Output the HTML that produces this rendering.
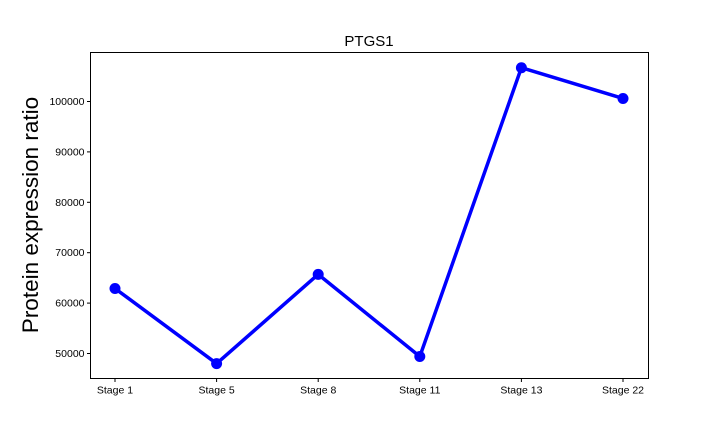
<!DOCTYPE html>
<html><head><meta charset="utf-8"><style>
body{margin:0;background:#fff;font-family:"Liberation Sans",sans-serif;}
svg text{font-family:"Liberation Sans",sans-serif;}
</style></head><body>
<svg id="chart" width="720" height="432" xmlns="http://www.w3.org/2000/svg">
<rect x="0" y="0" width="720" height="432" fill="#fff"/>
<text x="369" y="46" font-size="15" text-anchor="middle">PTGS1</text>
<text transform="translate(38,215) rotate(-90)" font-size="22.5" text-anchor="middle">Protein expression ratio</text>
<g id="axes"></g>
<g id="series"></g>
<rect x="90.5" y="52.5" width="558" height="326" fill="none" stroke="#000" stroke-width="1"/>
</svg>
<script>
const categories=["Stage 1","Stage 5","Stage 8","Stage 11","Stage 13","Stage 22"];
const values=[62900,48000,65700,49400,106700,100600];
const yTicks=[50000,60000,70000,80000,90000,100000];
const yMin=45040,yMax=109720;
const L=90.5,R=648.5,T=52.5,B=378.5;
const ns="http://www.w3.org/2000/svg";
function xS(i){return 115+i*(623-115)/(categories.length-1);}
function yS(v){return B-(v-yMin)/(yMax-yMin)*(B-T);}
const axes=document.getElementById('axes'),series=document.getElementById('series');
function mk(tag,attrs,parent){const e=document.createElementNS(ns,tag);for(const k in attrs)e.setAttribute(k,attrs[k]);parent.appendChild(e);return e;}
yTicks.forEach(v=>{const y=yS(v);
 const t=mk('line',{x1:L-3.5,x2:L,y1:y,y2:y,stroke:'#000'},axes);
 
 
 const tx=mk('text',{x:L-6,y:y+3.5,'font-size':10.5,'text-anchor':'end'},axes);tx.textContent=v;
 
 
});
categories.forEach((c,i)=>{const x=xS(i);
 const t=mk('line',{x1:x,x2:x,y1:B,y2:B+3.5,stroke:'#000'},axes);
 
 
 const tx=mk('text',{x:x,y:B+15,'font-size':10.5,'text-anchor':'middle'},axes);tx.textContent=c;
 
 
});
const pts=values.map((v,i)=>xS(i)+','+yS(v)).join(' ');
const pl=mk('polyline',{points:pts,fill:'none',stroke:'#0000ff','stroke-width':3.5,'stroke-linejoin':'round'},series);


values.forEach((v,i)=>{const c=mk('circle',{cx:xS(i),cy:yS(v),r:5.5,fill:'#0000ff'},series);
 
 
});
</script>
</body></html>
